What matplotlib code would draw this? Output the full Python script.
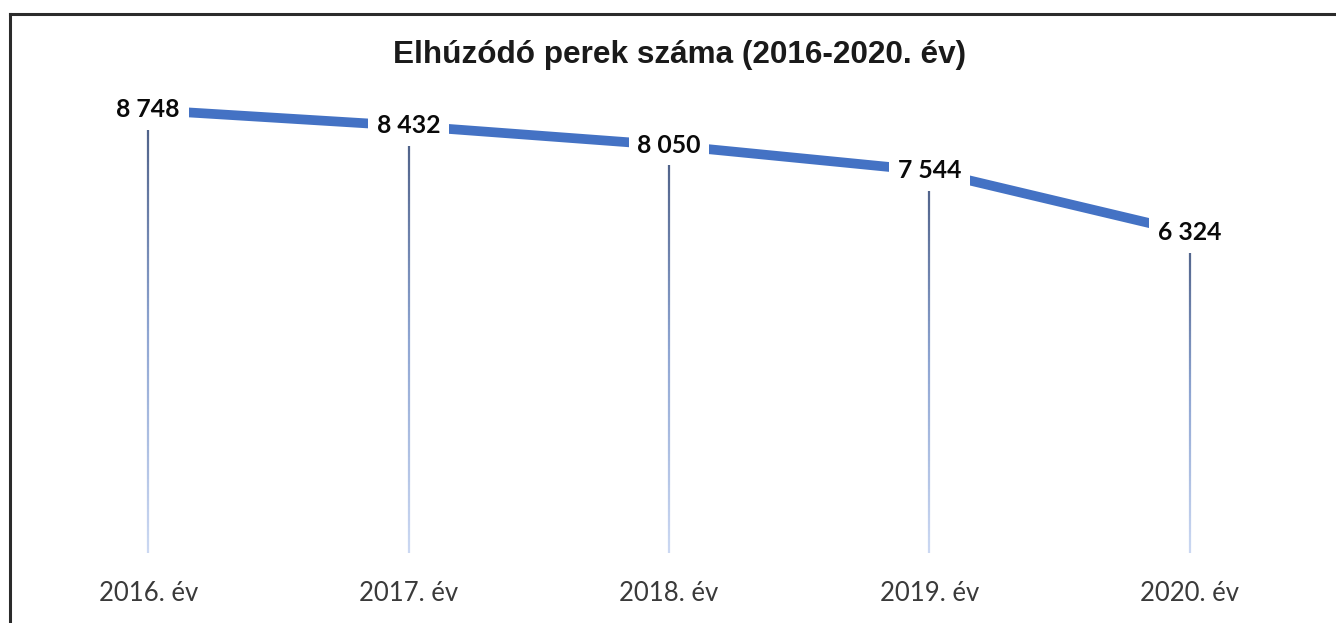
import numpy as np
import matplotlib
matplotlib.use("Agg")
import matplotlib.pyplot as plt
from matplotlib.collections import LineCollection
from matplotlib.colors import LinearSegmentedColormap
from matplotlib.lines import Line2D

# data
years = ["2016. év", "2017. év", "2018. év", "2019. év", "2020. év"]
cases = [8748, 8432, 8050, 7544, 6324]
title = "Elhúzódó perek száma (2016-2020. év)"

fig = plt.figure(figsize=(13.36, 6.23), dpi=100)
ax = fig.add_axes([0.0135, 0.1124, 0.9746, 0.7316])
x = np.arange(len(years))

# drop lines with a dark-to-light gradient
cmap = LinearSegmentedColormap.from_list("drop", ["#4b5d84", "#8ea5d2", "#cbd8f2"])
nseg = 120
for xi, v in zip(x, cases):
    ys = np.linspace(v, 0, nseg + 1)
    segs = [[(xi, ys[k]), (xi, ys[k + 1])] for k in range(nseg)]
    lc = LineCollection(segs, colors=cmap(np.linspace(0, 1, nseg)), linewidths=1.6,
                        zorder=1)
    ax.add_collection(lc)

ax.plot(x, cases, color="#4472c4", linewidth=7, solid_capstyle="butt",
        solid_joinstyle="miter", zorder=2)

for xi, v in zip(x, cases):
    lbl = f"{v:,}".replace(",", " ")
    ax.text(xi, v, lbl, ha="center", va="center", fontsize=17.8, fontweight="bold",
            family=["Lato", "DejaVu Sans"], color="#0a0a0a", zorder=5,
            bbox=dict(boxstyle="square,pad=0.35", facecolor="white", edgecolor="none"))

ax.set_xlim(-0.5, len(years) - 0.5)
ax.set_ylim(0, 9000)
ax.set_xticks(x)
ax.set_xticklabels(years, fontsize=18.5, family=["Lato", "DejaVu Sans"], color="#3a3a3a")
ax.tick_params(axis="x", length=0, pad=20)
ax.set_yticks([])
for s in ax.spines.values():
    s.set_visible(False)

fig.text(0.509, 1 - 55 / 623, title, ha="center", va="center", fontsize=22.7,
         fontweight="bold", family=["Liberation Sans", "DejaVu Sans"], color="#1a1a1a")

# outer frame: top and left edges only
fig.add_artist(Line2D([10 / 1336, 1.0], [1 - 14 / 623, 1 - 14 / 623],
                      transform=fig.transFigure, color="#2b2b2b", linewidth=2.2))
fig.add_artist(Line2D([10 / 1336, 10 / 1336], [0.0, 1 - 14 / 623],
                      transform=fig.transFigure, color="#2b2b2b", linewidth=2.2))

fig.savefig("out.png", dpi=100)
